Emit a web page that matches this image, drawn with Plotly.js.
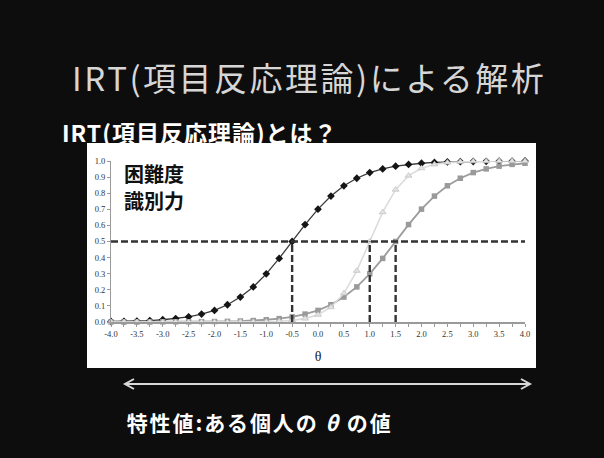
<!DOCTYPE html>
<html>
<head>
<meta charset="utf-8">
<script src="https://cdn.plot.ly/plotly-3.0.1.min.js"></script>
<style>
  html, body { margin: 0; padding: 0; background: #0d0d0d; }
  #chart { width: 604px; height: 458px; }
  /* wider character spacing for the slide headings */
  #chart .annotation[data-index="0"] .annotation-text { letter-spacing: 2.5px; }
  #chart .annotation[data-index="1"] .annotation-text { letter-spacing: 1px; }
  #chart .annotation[data-index="4"] .annotation-text { letter-spacing: 1.9px; }
</style>
</head>
<body>
<div id="chart"></div>
<script>
// Ability scale (theta) sampled every 0.25
const theta = [-4, -3.75, -3.5, -3.25, -3, -2.75, -2.5, -2.25, -2, -1.75, -1.5, -1.25,
  -1, -0.75, -0.5, -0.25, 0, 0.25, 0.5, 0.75, 1, 1.25, 1.5, 1.75, 2, 2.25, 2.5, 2.75,
  3, 3.25, 3.5, 3.75, 4];

// Item characteristic curves: probability of a correct answer
const pItemEasy = [0.003, 0.004, 0.006, 0.009, 0.014, 0.021, 0.032, 0.049, 0.072, 0.107,
  0.155, 0.218, 0.299, 0.395, 0.500, 0.605, 0.701, 0.782, 0.846, 0.893, 0.928, 0.951,
  0.968, 0.979, 0.986, 0.991, 0.994, 0.996, 0.997, 0.998, 0.999, 0.999, 1.000];
const pItemSteep = [0, 0, 0, 0, 0, 0, 0, 0, 0, 0, 0.001, 0.001, 0.002, 0.005, 0.010,
  0.021, 0.045, 0.092, 0.178, 0.318, 0.500, 0.682, 0.822, 0.909, 0.955, 0.979, 0.990,
  0.995, 0.998, 0.999, 1.000, 1.000, 1.000];
const pItemHard = [0.000, 0.000, 0.000, 0.000, 0.001, 0.001, 0.001, 0.002, 0.003, 0.004,
  0.006, 0.009, 0.014, 0.021, 0.032, 0.049, 0.072, 0.107, 0.155, 0.218, 0.299, 0.395,
  0.500, 0.605, 0.701, 0.782, 0.846, 0.893, 0.928, 0.951, 0.968, 0.979, 0.986];

// Difficulty of each item (theta where the probability reaches 0.5)
const difficulty = [-0.5, 1.0, 1.5];
const halfProb = 0.5;

const xTickLabels = ['-4.0', '-3.5', '-3.0', '-2.5', '-2.0', '-1.5', '-1.0', '-0.5', '0.0',
  '0.5', '1.0', '1.5', '2.0', '2.5', '3.0', '3.5', '4.0'];
const yTickValues = [0, 0.1, 0.2, 0.3, 0.4, 0.5, 0.6, 0.7, 0.8, 0.9, 1.0];
const yTickLabels = ['0.0', '0.1', '0.2', '0.3', '0.4', '0.5', '0.6', '0.7', '0.8', '0.9', '1.0'];

// ---- layout helpers (pixel -> paper) ----
const W = 604, H = 458;
const M = { l: 111, r: 79, t: 161, b: 136 };
const PW = W - M.l - M.r, PH = H - M.t - M.b;
const px = X => (X - M.l) / PW;
const py = Y => (H - M.b - Y) / PH;

const cjk = '"Noto Sans CJK JP", "Noto Sans", sans-serif';
const serif = '"Liberation Serif", "DejaVu Serif", serif';

function curve(yvals, lineColor, lineWidth, marker) {
  return {
    x: theta, y: yvals, type: 'scatter', mode: 'lines+markers', cliponaxis: false,
    line: { color: lineColor, width: lineWidth },
    marker: marker,
    hoverinfo: 'skip'
  };
}

// drawn bottom to top: easy item, hard item, steep item
const data = [
  curve(pItemEasy, '#3a3a3a', 1.3, { color: '#151515', symbol: 'diamond', size: 6 }),
  curve(pItemHard, '#9c9c9c', 1.8, { color: '#9a9a9a', symbol: 'square', size: 5.5 }),
  curve(pItemSteep, '#dcdcdc', 1.6, { color: '#e4e4e4', symbol: 'triangle-up', size: 6,
    line: { color: '#c2c2c2', width: 0.8 } })
];

// x tick labels every 0.5, plain ticks every 0.25
const xTickText = theta.map(t => {
  const lbl = t.toFixed(1);
  return xTickLabels.includes(lbl) ? lbl : '';
});

const shapes = [
  // white chart panel
  { type: 'rect', xref: 'paper', yref: 'paper', layer: 'below',
    x0: px(87), x1: px(536), y0: py(368), y1: py(143),
    fillcolor: '#ffffff', line: { width: 0 } },
  // 0.5 reference line
  { type: 'line', xref: 'x', yref: 'y', x0: theta[0], x1: theta[theta.length - 1] + 0.05,
    y0: halfProb, y1: halfProb, line: { color: '#333333', width: 2.4, dash: '7px,3px' } }
];
difficulty.forEach(b => shapes.push({
  type: 'line', xref: 'x', yref: 'y', x0: b, x1: b, y0: 0, y1: halfProb,
  line: { color: '#333333', width: 2.4, dash: '7px,3px' }
}));

// double-headed arrow under the chart
const ay = 384, ax0 = 125, ax1 = 530;
const arrowLine = { color: '#d9d9d9', width: 2 };
shapes.push({ type: 'line', xref: 'paper', yref: 'paper',
  x0: px(ax0), x1: px(ax1), y0: py(ay), y1: py(ay), line: arrowLine });
shapes.push({ type: 'path', xref: 'paper', yref: 'paper', line: arrowLine,
  path: `M ${px(ax0 + 9)} ${py(ay - 5)} L ${px(ax0)} ${py(ay)} L ${px(ax0 + 9)} ${py(ay + 5)}` });
shapes.push({ type: 'path', xref: 'paper', yref: 'paper', line: arrowLine,
  path: `M ${px(ax1 - 9)} ${py(ay - 5)} L ${px(ax1)} ${py(ay)} L ${px(ax1 - 9)} ${py(ay + 5)}` });

const annotations = [
  { text: 'IRT(項目反応理論)による解析', xref: 'paper', yref: 'paper',
    x: px(309), y: py(77), xanchor: 'center', yanchor: 'middle', showarrow: false,
    font: { family: cjk, size: 33, color: '#d6d6d6' } },
  { text: '<b>IRT(項目反応理論)とは？</b>', xref: 'paper', yref: 'paper',
    x: px(200), y: py(132), xanchor: 'center', yanchor: 'middle', showarrow: false,
    font: { family: cjk, size: 23, color: '#ffffff' } },
  { text: '<b>困難度</b>', xref: 'paper', yref: 'paper',
    x: px(122), y: py(173), xanchor: 'left', yanchor: 'middle', showarrow: false,
    font: { family: cjk, size: 20, color: '#111111' } },
  { text: '<b>識別力</b>', xref: 'paper', yref: 'paper',
    x: px(122), y: py(200), xanchor: 'left', yanchor: 'middle', showarrow: false,
    font: { family: cjk, size: 20, color: '#111111' } },
  { text: '<b>特性値:ある個人の\u00a0<i>θ</i>\u00a0の値</b>', xref: 'paper', yref: 'paper',
    x: px(259), y: py(422), xanchor: 'center', yanchor: 'middle', showarrow: false,
    font: { family: cjk, size: 21, color: '#ffffff' } }
];

const layout = {
  width: W, height: H, margin: M,
  paper_bgcolor: '#0d0d0d', plot_bgcolor: '#ffffff',
  showlegend: false,
  xaxis: {
    range: [-4, 4], tickmode: 'array', tickvals: theta, ticktext: xTickText,
    showgrid: false, zeroline: false, showline: true, linecolor: '#9a9a9a', linewidth: 1.5,
    ticks: 'outside', ticklen: 3, tickcolor: '#9a9a9a', tickwidth: 1,
    tickfont: { family: serif, size: 8.5, color: '#333333' },
    title: { text: 'θ', font: { family: serif, size: 14, color: '#1a1a1a' }, standoff: 13 },
    fixedrange: true
  },
  yaxis: {
    range: [0, 1], tickmode: 'array', tickvals: yTickValues, ticktext: yTickLabels,
    showgrid: false, zeroline: false, showline: true, linecolor: '#9a9a9a', linewidth: 1,
    ticks: 'outside', ticklen: 3, tickcolor: '#9a9a9a',
    tickfont: { family: serif, size: 8.5, color: '#333333' },
    fixedrange: true
  },
  shapes: shapes,
  annotations: annotations
};

Plotly.newPlot('chart', data, layout, { staticPlot: true, displayModeBar: false });
</script>
</body>
</html>
